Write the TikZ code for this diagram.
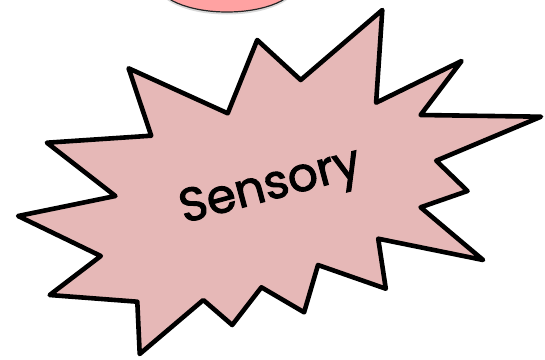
\documentclass[tikz,border=0pt]{standalone}
\usepackage{fontspec}
\newfontfamily\burstfont[FakeBold=2.2]{Poppins}
\usetikzlibrary{shadows}

\definecolor{burstpink}{HTML}{E6B8B7}
\definecolor{bubblepink}{HTML}{FFA2A2}

\begin{document}
\begin{tikzpicture}[x=1pt, y=-1pt,
    burst/.style={fill=burstpink, draw=black, line width=4.6pt, line join=round},
    bubble/.style={fill=bubblepink, draw=black!85, line width=1.2pt,
      drop shadow={shadow xshift=0pt, shadow yshift=-2.5pt, opacity=0.3}},
    label/.style={font=\burstfont\fontsize{47}{52}\selectfont, rotate=15}]
  \useasboundingbox (0,0) rectangle (545,359);
  % bubble cut off at the top
  \path[bubble] (227,-18) ellipse [x radius=70, y radius=30];
  % burst
  \draw[burst] (128.6,68.3) -- (227.7,113.3) -- (257.2,40) -- (300.7,80)
    -- (382.3,10) -- (376.1,102.7) -- (461.6,61) -- (420.6,115)
    -- (541,116.7) -- (436.2,160.7) -- (467.5,191) -- (420.6,207.3)
    -- (483.1,260) -- (378.2,238.7) -- (385.8,288.7) -- (318,265)
    -- (304.1,312.3) -- (261.4,287.3) -- (232.2,325) -- (203.3,300)
    -- (139.7,354) -- (137.3,301.7) -- (49.7,295) -- (100.8,256)
    -- (18.1,216) -- (115.4,196) -- (46.9,142.7) -- (151.2,135.7) -- cycle;
  % text
  \node[label] (sensory) at (271,189) {Sensory};
\end{tikzpicture}
\end{document}
